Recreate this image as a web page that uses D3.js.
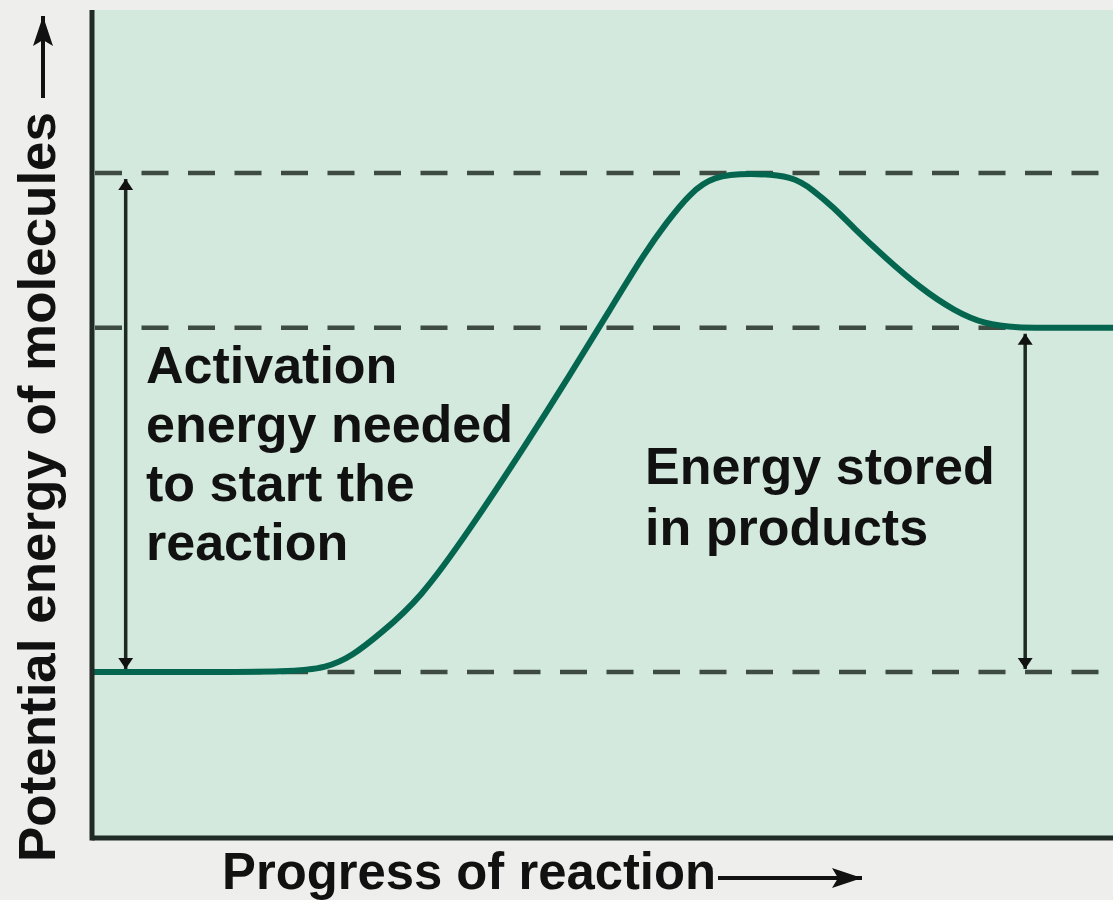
<!DOCTYPE html>
<html>
<head>
<meta charset="utf-8">
<script src="https://cdn.jsdelivr.net/npm/d3@7"></script>
<style>
  html, body { margin: 0; padding: 0; background: #eeefed; }
  svg { display: block; }
  .lbl { font-family: "Liberation Sans", Arial, sans-serif; font-weight: bold; font-size: 52px; fill: #111; }
</style>
</head>
<body>
<svg id="chart" width="1113" height="900"></svg>
<script>
// energy levels (reactants, products, transition state)
var levelNames = ["reactants", "products", "transition"];
var levelValues = [0, 69, 100];

// reaction path: progress vs potential energy
var progress = [0, 10, 19.4, 23.0, 25.5, 28.2, 32.1, 37.0, 42.6, 46.8, 50.7, 54.0, 56.3, 58.6, 60.8, 64.4, 68.7, 70.6, 72.6, 74.5, 77.7, 81.1, 84.5, 87.5, 90.4, 95, 100];
var energy   = [0, 0, 0, 0.8, 3.2, 7.6, 14.5, 28.5, 45.9, 59.5, 72.5, 83.6, 90.2, 96.0, 99.4, 100, 99.4, 96.6, 93.2, 89.2, 83.0, 77.0, 72.3, 69.7, 69, 69, 69];

// annotation arrows: progress position, from level, to level
var arrowX = [3.3, 91.4];
var arrowFrom = [0, 0];
var arrowTo = [100, 69];

var activationLines = ["Activation", "energy needed", "to start the", "reaction"];
var productLines = ["Energy stored", "in products"];
var xTitle = "Progress of reaction";
var yTitle = "Potential energy of molecules";

var svg = d3.select("#chart");
var width = 1113, height = 900;
var margin = {left: 92, top: 10, right: 0, bottom: 62};

var x = d3.scaleLinear().domain([0, 100]).range([margin.left, width - margin.right]);
var y = d3.scaleLinear().domain([-33.3, 132.7]).range([height - margin.bottom, margin.top]);

var defs = svg.append("defs");
defs.append("marker")
    .attr("id", "head")
    .attr("viewBox", "0 0 11 20")
    .attr("refX", 11).attr("refY", 10)
    .attr("markerWidth", 11).attr("markerHeight", 20)
    .attr("markerUnits", "userSpaceOnUse")
    .attr("orient", "auto-start-reverse")
    .append("path")
    .attr("d", "M0,2.5 L11,10 L0,17.5 Z")
    .attr("fill", "#111");
defs.append("marker")
    .attr("id", "bighead")
    .attr("viewBox", "0 0 30 22")
    .attr("refX", 30).attr("refY", 11)
    .attr("markerWidth", 30).attr("markerHeight", 22)
    .attr("markerUnits", "userSpaceOnUse")
    .attr("orient", "auto")
    .append("path")
    .attr("d", "M0,1 L30,11 L0,21 L6,11 Z")
    .attr("fill", "#111");

// plot background
svg.append("rect")
    .attr("x", x(0)).attr("y", y(132.7))
    .attr("width", x(100) - x(0))
    .attr("height", y(-33.3) - y(132.7))
    .attr("fill", "#d3e9dd");

// dashed level lines
svg.selectAll(".level")
    .data(levelValues)
    .enter().append("line")
    .attr("class", "level")
    .attr("x1", x(0) + 3).attr("x2", x(100))
    .attr("y1", function (d) { return y(d); })
    .attr("y2", function (d) { return y(d); })
    .attr("stroke", "#3d4b43")
    .attr("stroke-width", 4.5)
    .attr("stroke-dasharray", "27,19.5");

// double arrows
svg.selectAll(".arrow")
    .data(arrowX)
    .enter().append("line")
    .attr("class", "arrow")
    .attr("x1", function (d) { return x(d); })
    .attr("x2", function (d) { return x(d); })
    .attr("y1", function (d, i) { return y(arrowFrom[i]) - 3; })
    .attr("y2", function (d, i) { return y(arrowTo[i]) + 6; })
    .attr("stroke", "#1c2a22")
    .attr("stroke-width", 3.5)
    .attr("marker-start", "url(#head)")
    .attr("marker-end", "url(#head)");

// reaction curve
var points = progress.map(function (p, i) { return [p, energy[i]]; });
var line = d3.line()
    .x(function (d) { return x(d[0]); })
    .y(function (d) { return y(d[1]); })
    .curve(d3.curveBasis);

svg.append("path")
    .datum(points)
    .attr("d", line)
    .attr("fill", "none")
    .attr("stroke", "#05664f")
    .attr("stroke-width", 6)
    .attr("stroke-linejoin", "round");

// axes (no ticks)
svg.append("line")
    .attr("x1", x(0)).attr("x2", x(0))
    .attr("y1", y(132.7)).attr("y2", y(-33.3) + 2.5)
    .attr("stroke", "#1f2b24").attr("stroke-width", 5);
svg.append("line")
    .attr("x1", x(0)).attr("x2", x(100))
    .attr("y1", y(-33.3)).attr("y2", y(-33.3))
    .attr("stroke", "#1f2b24").attr("stroke-width", 5);

// annotation texts
var t1 = svg.append("text").attr("class", "lbl").attr("x", 146).attr("y", 383);
activationLines.forEach(function (s, i) {
    t1.append("tspan").attr("x", 146).attr("dy", i === 0 ? 0 : 59).text(s);
});
var t2 = svg.append("text").attr("class", "lbl").attr("x", 645).attr("y", 484);
productLines.forEach(function (s, i) {
    t2.append("tspan").attr("x", 645).attr("dy", i === 0 ? 0 : 61).text(s);
});

// axis titles with arrows
svg.append("text").attr("class", "lbl")
    .attr("x", 222).attr("y", 889)
    .attr("textLength", 494).attr("lengthAdjust", "spacingAndGlyphs")
    .text(xTitle);
svg.append("line")
    .attr("x1", 718).attr("x2", 862)
    .attr("y1", 878).attr("y2", 878)
    .attr("stroke", "#111").attr("stroke-width", 4)
    .attr("marker-end", "url(#bighead)");

svg.append("text").attr("class", "lbl")
    .attr("transform", "translate(55,862) rotate(-90)")
    .attr("textLength", 750).attr("lengthAdjust", "spacingAndGlyphs")
    .text(yTitle);
svg.append("line")
    .attr("x1", 43).attr("x2", 43)
    .attr("y1", 98).attr("y2", 16)
    .attr("stroke", "#111").attr("stroke-width", 4)
    .attr("marker-end", "url(#bighead)");
</script>
</body>
</html>
